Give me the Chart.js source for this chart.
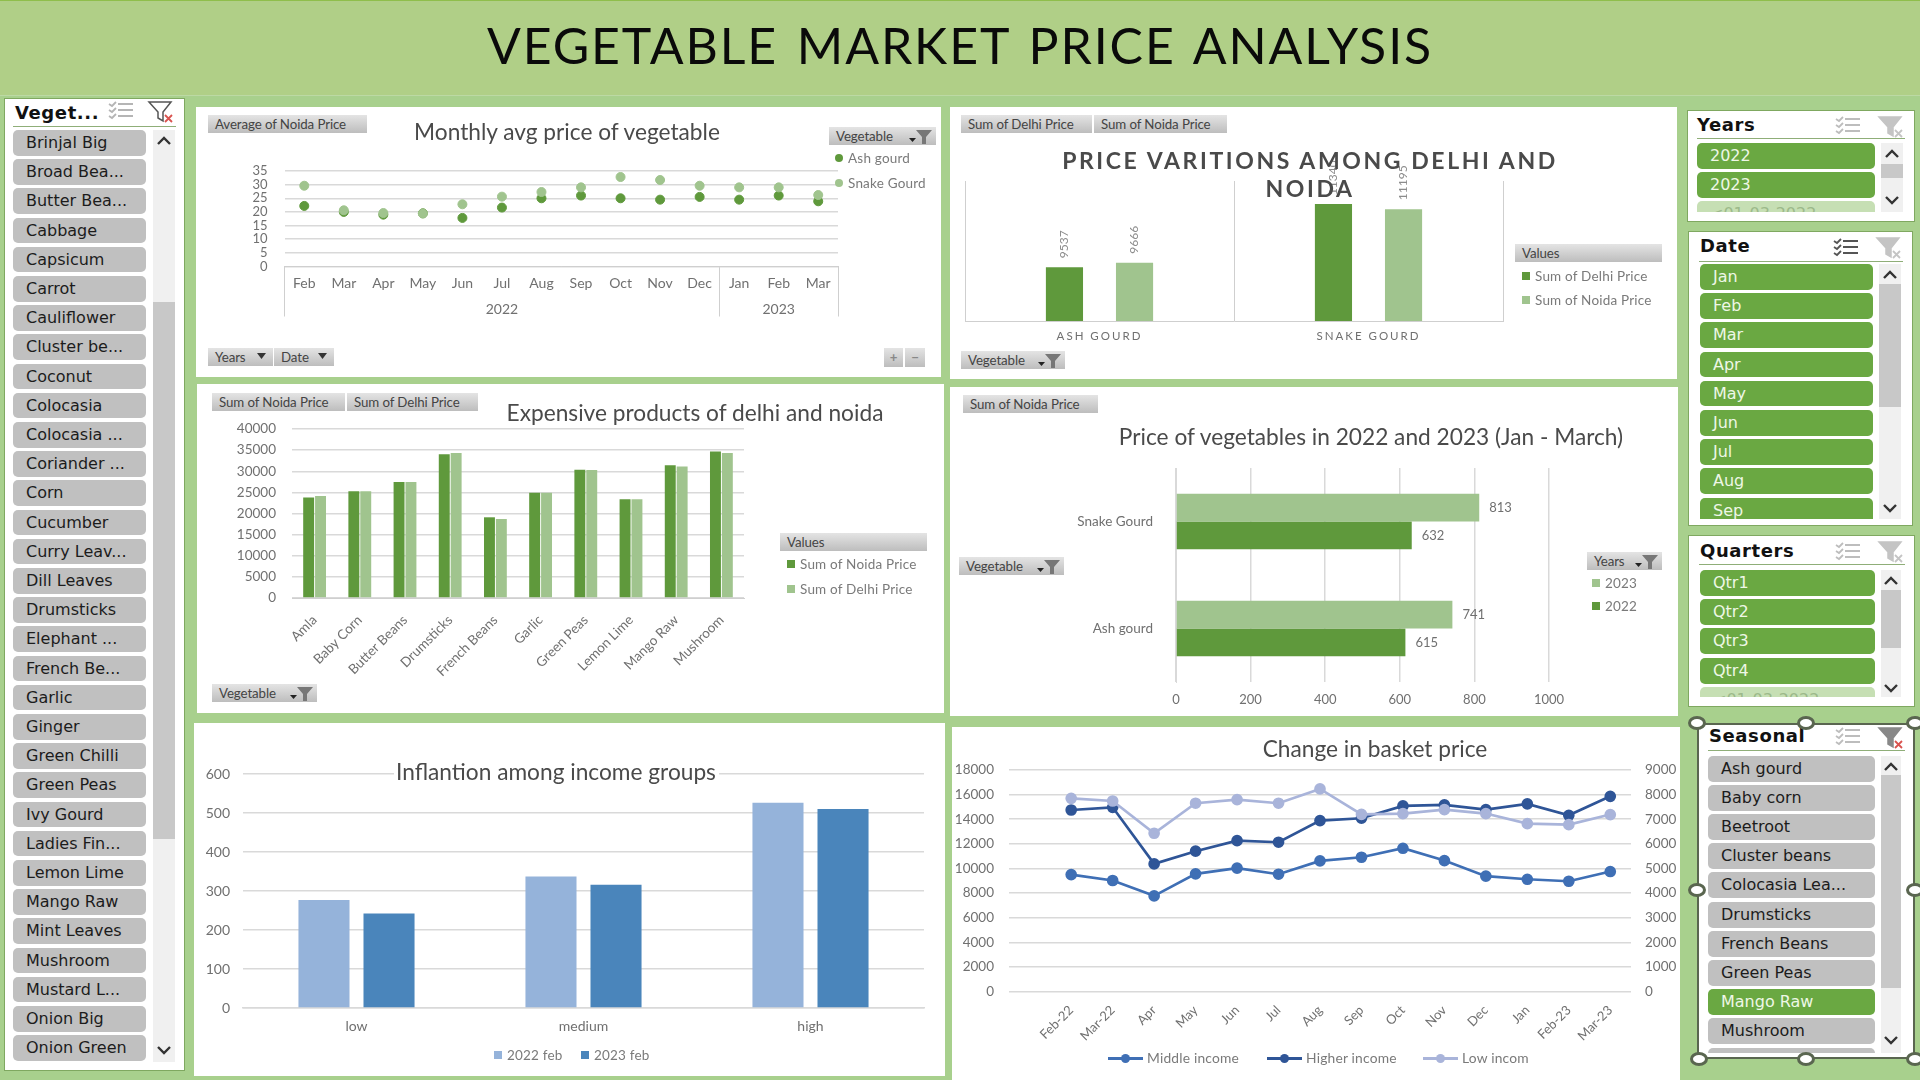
<!DOCTYPE html>
<html>
<head>
<meta charset="utf-8">
<title>Vegetable Market Price Analysis</title>
<script src="https://cdn.jsdelivr.net/npm/chart.js@4"></script>
<style>
    html, body { margin: 0; padding: 0; }
    body { width: 1920px; height: 1080px; background: #a8d08d; overflow: hidden; position: relative; font-family: Lato, sans-serif; }
    .abs { position: absolute; box-sizing: border-box; white-space: nowrap; }
    .band { background: #b0cf87; border-top: 1px solid #8fbe4b; border-bottom: 1px solid #bcd9a4; }
    .main-title { font-size: 50px; color: #0a0a0a; text-align: center; letter-spacing: 1.9px; word-spacing: 4px; }
    .panel { background: #fff; }
    .chart-title { color: #4a4a4a; text-align: center; z-index: 5; }
    .btn { background: linear-gradient(#e4e4e4, #bdbdbd); color: #444; font-size: 13.300px; line-height: 18px; padding-left: 7px; z-index: 4; letter-spacing: -0.1px; }
    .legend-text { color: #7a7a7a; font-size: 13.500px; line-height: 16px; letter-spacing: 0.2px; z-index: 4; }
    .slicer { background: #fff; border: 1px solid #7fa860; }
    .slicer-title { font-family: "DejaVu Sans", sans-serif; font-weight: bold; font-size: 18px; color: #111; line-height: 20px; }
    .slicer-rule { background: #8fae78; height: 1px; }
    .item { font-family: "DejaVu Sans", sans-serif; font-size: 16px; border-radius: 5px; background: #c0c0c0; color: #1c1c1c; padding-left: 13px; }
    .item.on { background: #6aa842; color: #eef7e6; }
    .item.pale { background: #c6dfb4; color: #9cb98a; }
    canvas { position: absolute; display: block; }
</style>
</head>
<body>
<script>
// Monthly avg price of vegetable
const monthLabels = ['Feb', 'Mar', 'Apr', 'May', 'Jun', 'Jul', 'Aug', 'Sep', 'Oct', 'Nov', 'Dec', 'Jan', 'Feb', 'Mar'];
const ashGourdAvg = [22.2, 20, 19, 19.5, 17.8, 21.6, 25, 26, 25, 24.5, 25.5, 24.5, 26, 23.9];
const snakeGourdAvg = [29.6, 20.6, 19.6, 19.4, 22.8, 25.6, 27.3, 29, 32.8, 31.7, 29.6, 29, 29, 26.2];

// Price varitions among delhi and noida
const variationVegetables = ['ASH GOURD', 'SNAKE GOURD'];
const delhiTotals = [9537, 11340];
const noidaTotals = [9666, 11195];

// Expensive products
const expensiveProducts = ['Amla', 'Baby Corn', 'Butter Beans', 'Drumsticks', 'French Beans', 'Garlic', 'Green Peas', 'Lemon Lime', 'Mango Raw', 'Mushroom'];
const noidaSums = [23800, 25250, 27450, 34000, 19100, 24900, 30350, 23400, 31400, 34700];
const delhiSums = [24150, 25250, 27450, 34300, 18700, 24900, 30300, 23400, 31100, 34300];

// Price of vegetables in 2022 and 2023
const yearVegetables = ['Snake Gourd', 'Ash gourd'];
const prices2023 = [813, 741];
const prices2022 = [632, 615];

// Inflation among income groups
const incomeGroups = ['low', 'medium', 'high'];
const feb2022 = [277, 337, 526];
const feb2023 = [242, 316, 510];

// Change in basket price
const basketMonths = ['Feb-22', 'Mar-22', 'Apr', 'May', 'Jun', 'Jul', 'Aug', 'Sep', 'Oct', 'Nov', 'Dec', 'Jan', 'Feb-23', 'Mar-23'];
const middleIncome = [9500, 9020, 7770, 9560, 10020, 9530, 10610, 10910, 11640, 10640, 9370, 9120, 8960, 9750];
const higherIncome = [14750, 14970, 10370, 11400, 12260, 12130, 13890, 14080, 15080, 15160, 14780, 15240, 14320, 15860];
const lowIncome = [7850, 7740, 6430, 7650, 7800, 7650, 8230, 7200, 7230, 7390, 7230, 6820, 6780, 7190];

// Slicer items
const vegetableItems = ['Brinjal Big', 'Broad Bea...', 'Butter Bea...', 'Cabbage', 'Capsicum', 'Carrot', 'Cauliflower', 'Cluster be...', 'Coconut', 'Colocasia', 'Colocasia ...', 'Coriander ...', 'Corn', 'Cucumber', 'Curry Leav...', 'Dill Leaves', 'Drumsticks', 'Elephant ...', 'French Be...', 'Garlic', 'Ginger', 'Green Chilli', 'Green Peas', 'Ivy Gourd', 'Ladies Fin...', 'Lemon Lime', 'Mango Raw', 'Mint Leaves', 'Mushroom', 'Mustard L...', 'Onion Big', 'Onion Green'];
const yearItems = ['2022', '2023', '<01-03-2022'];
const dateItems = ['Jan', 'Feb', 'Mar', 'Apr', 'May', 'Jun', 'Jul', 'Aug', 'Sep'];
const quarterItems = ['Qtr1', 'Qtr2', 'Qtr3', 'Qtr4', '<01-03-2022'];
const seasonalItems = ['Ash gourd', 'Baby corn', 'Beetroot', 'Cluster beans', 'Colocasia Lea...', 'Drumsticks', 'French Beans', 'Green Peas', 'Mango Raw', 'Mushroom', ''];

const DARK_GREEN = '#5f993c';
const LIGHT_GREEN = '#a0c48e';
const GRID = '#d9d9d9';
const TICK = '#707070';
const PLAIN_NUMBER = { useGrouping: false };

Chart.defaults.font.family = 'Lato, sans-serif';
Chart.defaults.color = TICK;
Chart.defaults.animation = false;
Chart.defaults.devicePixelRatio = 1;

// small dom helper
function addDiv(cls, x, y, w, h, text, css) {
    const d = document.createElement('div');
    d.className = 'abs ' + cls;
    d.style.left = x + 'px';
    d.style.top = y + 'px';
    if (w !== null) d.style.width = w + 'px';
    if (h !== null) d.style.height = h + 'px';
    if (text) d.textContent = text;
    if (css) Object.assign(d.style, css);
    document.body.appendChild(d);
    return d;
}

function addSvg(x, y, w, h, inner) {
    const d = addDiv('', x, y, w, h, '', { zIndex: 6 });
    d.innerHTML = '<svg width="' + w + '" height="' + h + '" viewBox="0 0 ' + w + ' ' + h + '" style="display:block">' + inner + '</svg>';
    return d;
}

function addTitle(text, cx, cy, width, size, css) {
    return addDiv('chart-title', cx - width / 2, cy - size * 0.7, width, size * 1.4, text,
        Object.assign({ fontSize: size + 'px', lineHeight: size * 1.4 + 'px' }, css || {}));
}

function addButton(text, x, y, w, filter, caret) {
    addDiv('btn', x, y, w, 18, text);
    if (filter) {
        addSvg(x + w - 30, y, 28, 18, '<path d="M3 11h7l-3.500 4z" fill="#222"/><path d="M10 3h16l-6 7v7h-4v-7z" fill="#777"/>');
    }
    if (caret) {
        addSvg(x + w - 17, y, 12, 18, '<path d="M1 5h9l-4.500 6z" fill="#333"/>');
    }
}

function addSwatch(x, cy, color, round) {
    addDiv('', x - 4, cy - 4, 8, 8, '', { background: color, borderRadius: round ? '50%' : '0', zIndex: 4 });
}

function addLegendEntry(text, x, cy, color, round) {
    addSwatch(x, cy, color, round);
    addDiv('legend-text', x + 9, cy - 8, null, 16, text);
}

// canvas covering a panel, padding worked out so the plot lands on the wanted pixels
function newCanvas(box) {
    const c = document.createElement('canvas');
    c.width = box.w;
    c.height = box.h;
    c.style.left = box.x + 'px';
    c.style.top = box.y + 'px';
    c.style.width = box.w + 'px';
    c.style.height = box.h + 'px';
    document.body.appendChild(c);
    return c;
}

function plotPadding(box, plot, leftAxis, bottomAxis, rightAxis) {
    return {
        autoPadding: false,
        padding: {
            left: plot.l - box.x - leftAxis,
            top: plot.t - box.y,
            right: box.x + box.w - plot.r - (rightAxis || 0),
            bottom: box.y + box.h - plot.b - bottomAxis
        }
    };
}

const fixWidth = w => s => { s.width = w; };
const fixHeight = h => s => { s.height = h; };

// value labels on bars
const barValues = {
    id: 'barValues',
    afterDatasetsDraw(chart, args, opts) {
        const ctx = chart.ctx;
        ctx.save();
        ctx.letterSpacing = '0px';
        ctx.font = opts.size + 'px Lato, sans-serif';
        ctx.fillStyle = opts.color;
        ctx.textBaseline = 'middle';
        chart.data.datasets.forEach((ds, di) => {
            chart.getDatasetMeta(di).data.forEach((bar, i) => {
                if (opts.vertical) {
                    ctx.save();
                    ctx.translate(bar.x, bar.y - 9);
                    ctx.rotate(-Math.PI / 2);
                    ctx.textAlign = 'left';
                    ctx.fillText(ds.data[i], 0, 0);
                    ctx.restore();
                } else {
                    ctx.textAlign = 'left';
                    ctx.fillText(ds.data[i], bar.x + 10, bar.y);
                }
            });
        });
        ctx.restore();
    }
};

const spacedTicks = {
    id: 'spacedTicks',
    beforeDraw(chart) { chart.ctx.letterSpacing = '2px'; }
};

// ---- layout ----
addDiv('band', 0, 0, 1920, 96);
addDiv('main-title', 0, 10, 1920, 70, 'VEGETABLE MARKET PRICE ANALYSIS', { lineHeight: '70px' });

const box1 = { x: 196, y: 107, w: 745, h: 270 };
const box2 = { x: 950, y: 107, w: 727, h: 272 };
const box3 = { x: 197, y: 384, w: 747, h: 329 };
const box4 = { x: 950, y: 387, w: 728, h: 329 };
const box5 = { x: 194, y: 723, w: 751, h: 353 };
const box6 = { x: 952, y: 727, w: 728, h: 353 };
[box1, box2, box3, box4, box5, box6].forEach(b => addDiv('panel', b.x, b.y, b.w, b.h));

// ---- Monthly avg price of vegetable ----
const plot1 = { l: 284.5, t: 171, r: 838, b: 266.500 };
const yearTicks = monthLabels.map((m, i) => i === 5 ? [m, '2022'] : i === 12 ? [m, '2023'] : m);
new Chart(newCanvas(box1), {
    type: 'line',
    data: {
        labels: yearTicks,
        datasets: [
            { label: 'Snake Gourd', data: snakeGourdAvg, showLine: false, pointRadius: 4.5, backgroundColor: LIGHT_GREEN, borderColor: LIGHT_GREEN },
            { label: 'Ash gourd', data: ashGourdAvg, showLine: false, pointRadius: 4.5, backgroundColor: DARK_GREEN, borderColor: DARK_GREEN }
        ]
    },
    options: {
        responsive: false,
        layout: plotPadding(box1, plot1, 50, 56),
        plugins: { legend: { display: false }, tooltip: { enabled: false } },
        scales: {
            x: {
                offset: true,
                afterFit: fixHeight(56),
                border: { color: '#cfcfcf' },
                grid: {
                    offset: true,
                    drawOnChartArea: false,
                    tickLength: 50,
                    color: c => (c.index === undefined || c.index === 0 || c.index === 11) ? '#cfcfcf' : 'rgba(0,0,0,0)'
                },
                ticks: { padding: -46, maxRotation: 0, autoSkip: false, font: { size: 14, lineHeight: 1.85 } }
            },
            y: {
                min: 0,
                max: 35,
                afterFit: fixWidth(50),
                border: { display: false },
                grid: { color: GRID, lineWidth: 1.5, drawTicks: false },
                ticks: { stepSize: 5, autoSkip: false, padding: 17, font: { size: 13 } }
            }
        }
    }
});
addButton('Average of Noida Price', 208, 115, 159);
addTitle('Monthly avg price of vegetable', 567, 132, 360, 22.700);
addButton('Vegetable', 829, 127, 107, true);
addLegendEntry('Ash gourd', 839, 158, DARK_GREEN, true);
addLegendEntry('Snake Gourd', 839, 183, LIGHT_GREEN, true);
addButton('Years', 208, 348, 65, false, true);
addButton('Date', 274, 348, 60, false, true);
addDiv('btn', 884, 348, 19, 19, '+', { padding: 0, textAlign: 'center', fontWeight: 'bold', color: '#888' });
addDiv('btn', 905, 348, 20, 19, '\u2212', { padding: 0, textAlign: 'center', fontWeight: 'bold', color: '#888' });

// ---- Price varitions ----
const plot2 = { l: 965, t: 181, r: 1503, b: 321 };
new Chart(newCanvas(box2), {
    type: 'bar',
    data: {
        labels: variationVegetables,
        datasets: [
            { label: 'Sum of Delhi Price', data: delhiTotals, backgroundColor: DARK_GREEN },
            { label: 'Sum of Noida Price', data: noidaTotals, backgroundColor: LIGHT_GREEN }
        ]
    },
    plugins: [spacedTicks, barValues],
    options: {
        responsive: false,
        layout: plotPadding(box2, plot2, 0, 30),
        categoryPercentage: 0.521,
        barPercentage: 0.53,
        plugins: {
            legend: { display: false },
            tooltip: { enabled: false },
            barValues: { vertical: true, size: 12, color: '#8c8c8c' }
        },
        scales: {
            x: {
                afterFit: fixHeight(30),
                border: { color: '#cfcfcf' },
                grid: { color: '#cfcfcf', drawTicks: false },
                ticks: { padding: 8, font: { size: 11.5 } }
            },
            y: { display: false, min: 8000, max: 12000 }
        }
    }
});
addButton('Sum of Delhi Price', 961, 115, 131);
addButton('Sum of Noida Price', 1094, 115, 133);
addTitle('PRICE VARITIONS AMONG DELHI AND', 1310, 160, 600, 23, { fontWeight: 'bold', letterSpacing: '2.6px' });
addTitle('NOIDA', 1310, 188, 140, 23, { fontWeight: 'bold', letterSpacing: '2.6px' });
addButton('Values', 1515, 244, 147);
addLegendEntry('Sum of Delhi Price', 1526, 276, DARK_GREEN);
addLegendEntry('Sum of Noida Price', 1526, 300, LIGHT_GREEN);
addButton('Vegetable', 961, 351, 104, true);

// ---- Expensive products ----
const plot3 = { l: 292, t: 429, r: 744, b: 598 };
new Chart(newCanvas(box3), {
    type: 'bar',
    data: {
        labels: expensiveProducts,
        datasets: [
            { label: 'Sum of Noida Price', data: noidaSums, backgroundColor: DARK_GREEN },
            { label: 'Sum of Delhi Price', data: delhiSums, backgroundColor: LIGHT_GREEN }
        ]
    },
    options: {
        responsive: false,
        layout: plotPadding(box3, plot3, 60, 100),
        categoryPercentage: 0.526,
        barPercentage: 0.92,
        plugins: { legend: { display: false }, tooltip: { enabled: false } },
        scales: {
            x: {
                afterFit: fixHeight(100),
                border: { color: '#cfcfcf' },
                grid: { display: false },
                ticks: { minRotation: 45, maxRotation: 45, autoSkip: false, padding: 6, font: { size: 13.500 } }
            },
            y: {
                min: 0,
                max: 40000,
                afterFit: fixWidth(60),
                border: { display: false },
                grid: { color: GRID, lineWidth: 1.5, drawTicks: false },
                ticks: { stepSize: 5000, autoSkip: false, format: PLAIN_NUMBER, padding: 16, font: { size: 13.500 } }
            }
        }
    }
});
addButton('Sum of Noida Price', 212, 393, 133);
addButton('Sum of Delhi Price', 347, 393, 131);
addTitle('Expensive products of delhi and noida', 695, 413, 440, 22.700);
addButton('Values', 780, 533, 147);
addLegendEntry('Sum of Noida Price', 791, 564, DARK_GREEN);
addLegendEntry('Sum of Delhi Price', 791, 589, LIGHT_GREEN);
addButton('Vegetable', 212, 684, 105, true);

// ---- Price of vegetables in 2022 and 2023 ----
const plot4 = { l: 1176, t: 468, r: 1549, b: 682 };
new Chart(newCanvas(box4), {
    type: 'bar',
    data: {
        labels: yearVegetables,
        datasets: [
            { label: '2023', data: prices2023, backgroundColor: LIGHT_GREEN },
            { label: '2022', data: prices2022, backgroundColor: DARK_GREEN }
        ]
    },
    plugins: [barValues],
    options: {
        indexAxis: 'y',
        responsive: false,
        layout: plotPadding(box4, plot4, 120, 30),
        categoryPercentage: 0.52,
        barPercentage: 1,
        plugins: {
            legend: { display: false },
            tooltip: { enabled: false },
            barValues: { vertical: false, size: 13, color: '#707070' }
        },
        scales: {
            x: {
                min: 0,
                max: 1000,
                afterFit: fixHeight(30),
                border: { display: false },
                grid: { color: GRID, lineWidth: 1.5, drawTicks: false },
                ticks: { stepSize: 200, format: PLAIN_NUMBER, padding: 10, font: { size: 13 } }
            },
            y: {
                afterFit: fixWidth(120),
                border: { color: GRID },
                grid: { display: false },
                ticks: { padding: 15, font: { size: 13.500 } }
            }
        }
    }
});
addButton('Sum of Noida Price', 963, 395, 135);
addTitle('Price of vegetables in 2022 and 2023 (Jan - March)', 1371, 437, 560, 22.700);
addButton('Vegetable', 959, 557, 105, true);
addButton('Years', 1587, 552, 75, true);
addLegendEntry('2023', 1596, 583, LIGHT_GREEN);
addLegendEntry('2022', 1596, 606, DARK_GREEN);

// ---- Inflation among income groups ----
const plot5 = { l: 243, t: 774, r: 924, b: 1008 };
new Chart(newCanvas(box5), {
    type: 'bar',
    data: {
        labels: incomeGroups,
        datasets: [
            { label: '2022 feb', data: feb2022, backgroundColor: '#95b3da' },
            { label: '2023 feb', data: feb2023, backgroundColor: '#4a85bb' }
        ]
    },
    options: {
        responsive: false,
        layout: plotPadding(box5, plot5, 40, 40),
        categoryPercentage: 0.573,
        barPercentage: 0.785,
        plugins: { legend: { display: false }, tooltip: { enabled: false } },
        scales: {
            x: {
                afterFit: fixHeight(40),
                border: { color: GRID, width: 1.5 },
                grid: { display: false },
                ticks: { padding: 2, font: { size: 14 } }
            },
            y: {
                min: 0,
                max: 600,
                afterFit: fixWidth(40),
                border: { display: false },
                grid: { color: GRID, lineWidth: 1.5, drawTicks: false },
                ticks: { stepSize: 100, padding: 13, font: { size: 14 } }
            }
        }
    }
});
addTitle('Inflantion among income groups', 556, 772, 325, 22.700, { background: '#fff', lineHeight: '26px', height: '26px', top: '759px' });
addLegendEntry('2022 feb', 498, 1055, '#95b3da');
addLegendEntry('2023 feb', 585, 1055, '#4a85bb');

// ---- Change in basket price ----
const plot6 = { l: 1009, t: 770, r: 1631, b: 991.500 };
new Chart(newCanvas(box6), {
    type: 'line',
    data: {
        labels: [''].concat(basketMonths),
        datasets: [
            { label: 'Low incom', data: [null].concat(lowIncome), yAxisID: 'y2', borderColor: '#a9b4da', backgroundColor: '#a9b4da', borderWidth: 2.7, pointRadius: 4.5 },
            { label: 'Higher income', data: [null].concat(higherIncome), yAxisID: 'y', borderColor: '#2f5597', backgroundColor: '#2f5597', borderWidth: 2.7, pointRadius: 4.5 },
            { label: 'Middle income', data: [null].concat(middleIncome), yAxisID: 'y', borderColor: '#3f6fb5', backgroundColor: '#3f6fb5', borderWidth: 2.7, pointRadius: 4.5 }
        ]
    },
    options: {
        responsive: false,
        layout: plotPadding(box6, plot6, 57, 70, 49),
        plugins: { legend: { display: false }, tooltip: { enabled: false } },
        scales: {
            x: {
                offset: true,
                afterFit: fixHeight(70),
                border: { display: false },
                grid: { display: false },
                ticks: { minRotation: 45, maxRotation: 45, autoSkip: false, padding: 3, font: { size: 13 } }
            },
            y: {
                min: 0,
                max: 18000,
                afterFit: fixWidth(57),
                border: { display: false },
                grid: { color: GRID, lineWidth: 1.5, drawTicks: false },
                ticks: { stepSize: 2000, autoSkip: false, format: PLAIN_NUMBER, padding: 15, font: { size: 13.500 } }
            },
            y2: {
                position: 'right',
                min: 0,
                max: 9000,
                afterFit: fixWidth(49),
                border: { display: false },
                grid: { drawOnChartArea: false, drawTicks: false },
                ticks: { stepSize: 1000, autoSkip: false, format: PLAIN_NUMBER, padding: 14, font: { size: 13.500 } }
            }
        }
    }
});
addTitle('Change in basket price', 1375, 749, 280, 22.700);
[['Middle income', 1108, '#3f6fb5'], ['Higher income', 1267, '#2f5597'], ['Low incom', 1423, '#a9b4da']].forEach(e => {
    addDiv('', e[1], 1057, 35, 3, '', { background: e[2], zIndex: 4 });
    addDiv('', e[1] + 13, 1054, 9, 9, '', { background: e[2], borderRadius: '50%', zIndex: 4 });
    addDiv('legend-text', e[1] + 39, 1050, null, 16, e[0], { fontSize: '13.8px' });
});

// ---- slicers ----
function chevron(x, y, up) {
    const path = up ? 'M2 9l6-6 6 6' : 'M2 3l6 6 6-6';
    addSvg(x - 8, y - 6, 16, 12, '<path d="' + path + '" fill="none" stroke="#333" stroke-width="2.400"/>');
}

function checkIcon(x, y, color) {
    addSvg(x, y, 26, 20, '<g stroke="' + color + '" stroke-width="1.800" fill="none">' +
        '<path d="M10 4h15M10 10h15M10 16h15"/><path d="M1 4l3 2 4-4M1 10l3 2 4-4M1 16l3 2 4-4"/></g>');
}

function filterIcon(x, y, color, cross) {
    addSvg(x, y, 28, 24, '<path d="M2 2h22l-8 10v9l-5-3v-6z" fill="' + (color === 'none' ? 'none' : color) + '" stroke="' + (color === 'none' ? '#555' : color) + '" stroke-width="1.500"/>' +
        '<path d="M18 15l7 7M25 15l-7 7" stroke="' + cross + '" stroke-width="1.800"/>');
}

function drawSlicer(s) {
    addDiv('slicer', s.box.x, s.box.y, s.box.w, s.box.h, '', s.boxCss || {});
    addDiv('slicer-title', s.titleX, s.titleY - 10, null, 20, s.title, { letterSpacing: '0.6px' });
    addDiv('slicer-rule', s.lineX0, s.lineY, s.lineX1 - s.lineX0, 1);
    const list = addDiv('', s.itemX, s.itemY0, s.itemW, s.clipY - s.itemY0, '', { overflow: 'hidden' });
    s.items.forEach((name, i) => {
        const d = document.createElement('div');
        d.className = 'abs item ' + s.style(name, i);
        d.style.left = '0px';
        d.style.top = i * s.pitch + 'px';
        d.style.width = s.itemW + 'px';
        d.style.height = s.itemH + 'px';
        d.style.lineHeight = s.itemH + 'px';
        d.textContent = name;
        list.appendChild(d);
    });
    addDiv('', s.trackX, s.itemY0, s.trackW, s.clipY - s.itemY0, '', { background: '#f0f0f0' });
    addDiv('', s.trackX, s.thumb[0], s.trackW, s.thumb[1] - s.thumb[0], '', { background: '#c8c8c8' });
    chevron(s.trackX + s.trackW / 2, s.upY, true);
    chevron(s.trackX + s.trackW / 2, s.downY, false);
}

drawSlicer({
    box: { x: 4, y: 98, w: 181, h: 973 }, title: 'Veget...', titleX: 15, titleY: 113,
    lineY: 126, lineX0: 13, lineX1: 176,
    items: vegetableItems, style: () => '',
    itemX: 13, itemW: 133, itemY0: 130, pitch: 29.200, itemH: 25.500, clipY: 1062,
    trackX: 153, trackW: 22, thumb: [302, 839], upY: 141, downY: 1050
});
checkIcon(108, 100, '#b5b5b5');
filterIcon(147, 100, 'none', '#d9534f');

drawSlicer({
    box: { x: 1687, y: 110, w: 228, h: 112 }, title: 'Years', titleX: 1697, titleY: 125,
    lineY: 138, lineX0: 1697, lineX1: 1905,
    items: yearItems, style: (n, i) => i < 2 ? 'on' : 'pale',
    itemX: 1697, itemW: 178, itemY0: 143, pitch: 29.200, itemH: 25.500, clipY: 212,
    trackX: 1881, trackW: 22, thumb: [164, 178], upY: 154, downY: 200
});
checkIcon(1835, 115, '#bdbdbd');
filterIcon(1877, 115, '#c4c4c4', '#c4c4c4');

drawSlicer({
    box: { x: 1688, y: 231, w: 225, h: 295 }, title: 'Date', titleX: 1700, titleY: 246,
    lineY: 261, lineX0: 1699, lineX1: 1903,
    items: dateItems, style: () => 'on',
    itemX: 1700, itemW: 173, itemY0: 264, pitch: 29.200, itemH: 25.500, clipY: 519,
    trackX: 1879, trackW: 22, thumb: [284, 407], upY: 275, downY: 508
});
checkIcon(1833, 237, '#555');
filterIcon(1875, 236, '#c4c4c4', '#c4c4c4');

drawSlicer({
    box: { x: 1688, y: 535, w: 227, h: 172 }, title: 'Quarters', titleX: 1700, titleY: 551,
    lineY: 564, lineX0: 1699, lineX1: 1905,
    items: quarterItems, style: (n, i) => i < 4 ? 'on' : 'pale',
    itemX: 1700, itemW: 175, itemY0: 570, pitch: 29.200, itemH: 26, clipY: 697,
    trackX: 1881, trackW: 20, thumb: [590, 648], upY: 581, downY: 688
});
checkIcon(1835, 541, '#bdbdbd');
filterIcon(1877, 540, '#c4c4c4', '#c4c4c4');

drawSlicer({
    box: { x: 1697, y: 723, w: 218, h: 336 }, boxCss: { border: '2px solid #5a6650' },
    title: 'Seasonal', titleX: 1709, titleY: 736,
    lineY: 750, lineX0: 1708, lineX1: 1905,
    items: seasonalItems, style: n => n === 'Mango Raw' ? 'on' : '',
    itemX: 1708, itemW: 167, itemY0: 755.500, pitch: 29.200, itemH: 26, clipY: 1053,
    trackX: 1881, trackW: 20, thumb: [775, 988], upY: 767, downY: 1040
});
checkIcon(1835, 726, '#bdbdbd');
filterIcon(1877, 726, '#888', '#d9534f');

// resize handles on the selected slicer
[[1697, 723], [1806, 723], [1915, 723], [1697, 890], [1915, 890], [1699, 1059], [1806, 1059], [1915, 1059]].forEach(p => {
    addDiv('', p[0] - 9, p[1] - 7, 18, 14, '', { background: '#fff', border: '3px solid #5a6650', borderRadius: '50%', zIndex: 7 });
});
</script>
</body>
</html>
